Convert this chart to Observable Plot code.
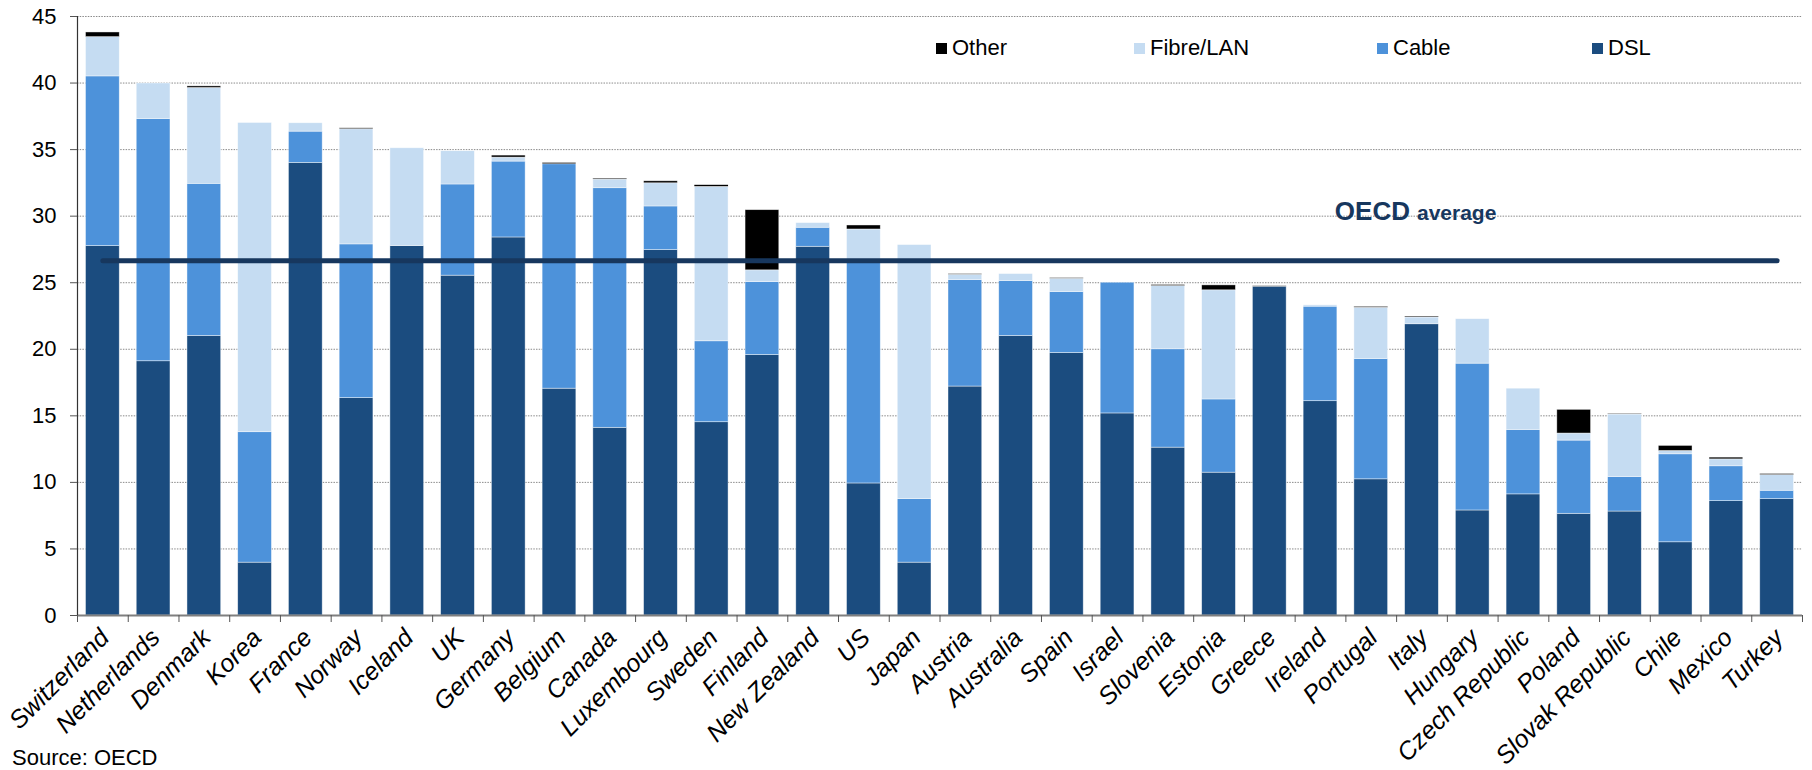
<!DOCTYPE html>
<html><head><meta charset="utf-8">
<script src="https://cdn.jsdelivr.net/npm/d3@7"></script>
<script src="https://cdn.jsdelivr.net/npm/@observablehq/plot@0.6"></script>
<style>
body{margin:0;background:#fff;font-family:"Liberation Sans",Arial,sans-serif;}
#wrap{position:relative;width:1812px;height:770px;overflow:hidden;}
.lg{position:absolute;top:37px;font-size:22px;line-height:22px;display:flex;align-items:center;color:#000;white-space:nowrap;}
.lg i{display:inline-block;width:11px;height:11px;margin-right:5px;}
#src{position:absolute;left:12px;top:747px;font-size:22px;line-height:22px;color:#000;}
</style></head><body><div id="wrap"></div>
<script>
const countries = ["Switzerland","Netherlands","Denmark","Korea","France","Norway","Iceland","UK","Germany","Belgium","Canada","Luxembourg","Sweden","Finland","New Zealand","US","Japan","Austria","Australia","Spain","Israel","Slovenia","Estonia","Greece","Ireland","Portugal","Italy","Hungary","Czech Republic","Poland","Slovak Republic","Chile","Mexico","Turkey"];
const dsl   = [27.75,19.1,21.0,3.97,34.0,16.33,27.75,25.53,28.4,17.04,14.1,27.45,14.52,19.57,27.7,9.92,3.97,17.2,21.0,19.72,15.18,12.61,10.73,24.7,16.1,10.23,21.88,7.89,9.1,7.64,7.81,5.5,8.59,8.74];
const cable = [12.75,18.2,11.43,9.8,2.35,11.55,0,6.85,5.7,16.86,18.0,3.28,6.08,5.48,1.43,16.68,4.77,8.0,4.13,4.58,9.82,7.39,5.5,0,7.1,9.04,0,11.03,4.84,5.5,2.59,6.61,2.62,0.63];
const fibre = [2.95,2.67,7.2,23.23,0.63,8.65,7.35,2.5,0.3,0,0.65,1.74,11.6,0.88,0.35,2.4,19.09,0.4,0.52,1.0,0,4.75,8.2,0,0.1,3.85,0.51,3.34,3.1,0.53,4.7,0.25,0.52,1.18];
const other = [0.35,0,0.12,0,0,0.07,0,0,0.15,0.1,0.07,0.15,0.13,4.52,0,0.3,0,0.05,0,0.05,0,0.08,0.37,0.04,0,0.07,0.07,0,0,1.78,0.05,0.38,0.13,0.08];
const seriesNames = ["DSL","Cable","Fibre/LAN","Other"];
const seriesColors = ["#1B4C7F","#4D92DA","#C5DCF2","#000000"];
const legendOrder = ["Other","Fibre/LAN","Cable","DSL"];
const oecdAverage = 26.65;
const oecdLabel = ["OECD", "average"];
const yTicks = [0,5,10,15,20,25,30,35,40,45];
const sourceText = "Source: OECD";

const seriesValues = [dsl, cable, fibre, other];
const data = countries.flatMap((c, i) => seriesNames.map((s, k) => ({country: c, type: s, value: seriesValues[k][i]})));

const W = 1812, H = 770, mL = 77, mR = 10, mT = 16, mB = 155;
const n = countries.length;
const step = (W - mL - mR) / n;
const pad = 0.335;
const navy = "#17375E";

const chart = Plot.plot({
  width: W, height: H,
  marginLeft: mL, marginRight: mR, marginTop: mT, marginBottom: mB,
  style: {fontFamily: "Liberation Sans, Arial, sans-serif", fontSize: "22px", color: "#000", background: "#fff"},
  x: {domain: countries, paddingInner: pad, paddingOuter: pad / 2, round: false, label: null},
  y: {domain: [0, 45], label: null},
  color: {domain: seriesNames, range: seriesColors},
  marks: [
    Plot.gridY(yTicks.filter(t => t > 0), {stroke: "#8a8a8a", strokeOpacity: 1, strokeWidth: 1, strokeDasharray: "1.5,1.2"}),
    Plot.barY(data, {x: "country", y: "value", fill: "type", order: seriesNames, stroke: "#ffffff", strokeWidth: 0.7, strokeOpacity: 0.6}),
    Plot.ruleY([0], {stroke: "#7f7f7f", strokeWidth: 2}),
    Plot.ruleX([countries[0]], {y1: 0, y2: 45, dx: -step / 2, stroke: "#333", strokeWidth: 1.2}),
    Plot.axisY(yTicks, {tickSize: 7, tickPadding: 14, stroke: "#555", fontSize: 22}),
    Plot.axisX({text: null, tickSize: 7, dx: -step / 2, stroke: "#555"}),
    Plot.ruleX([countries[n - 1]], {y1: 0, y2: -7 / 13.31, dx: step / 2, stroke: "#555"}),
    Plot.axisX({tickSize: 0, tickPadding: 18, tickRotate: -45, fontSize: 25, fontStyle: "italic", dx: 2}),
    Plot.lineY([{c: countries[0], v: oecdAverage}, {c: countries[n - 1], v: oecdAverage}], {x: "c", y: "v", stroke: navy, strokeWidth: 5, strokeLinecap: "round"}),
    Plot.text([{c: "Italy", v: 29.68}], {x: "c", y: "v", text: () => oecdLabel[0], textAnchor: "end", lineAnchor: "bottom", dx: -12, fill: navy, fontWeight: "bold", fontSize: 26}),
    Plot.text([{c: "Italy", v: 29.68}], {x: "c", y: "v", text: () => oecdLabel[1], textAnchor: "start", lineAnchor: "bottom", dx: -5, fill: navy, fontWeight: "bold", fontSize: 21})
  ]
});
d3.select(chart).selectAll('g[aria-label="x-axis tick label"] text').style("font-style", "italic");

const wrap = document.getElementById("wrap");
wrap.appendChild(chart);

const legendLeft = {"Other": 936, "Fibre/LAN": 1134, "Cable": 1377, "DSL": 1592};
legendOrder.forEach(name => {
  const d = document.createElement("div");
  d.className = "lg";
  d.style.left = legendLeft[name] + "px";
  const sw = document.createElement("i");
  sw.style.background = seriesColors[seriesNames.indexOf(name)];
  d.appendChild(sw);
  d.appendChild(document.createTextNode(name));
  wrap.appendChild(d);
});
const src = document.createElement("div");
src.id = "src";
src.textContent = sourceText;
wrap.appendChild(src);
</script>
</body></html>
